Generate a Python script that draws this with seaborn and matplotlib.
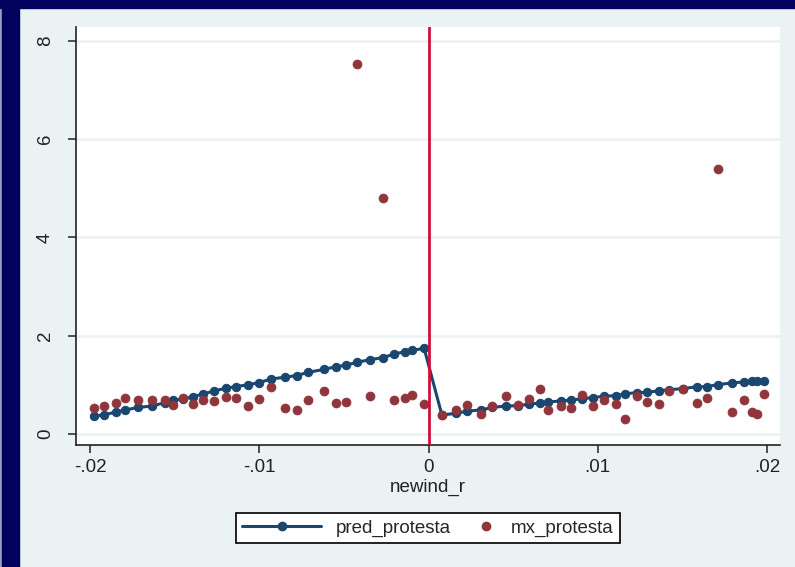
import numpy as np
import pandas as pd
import seaborn as sns
import matplotlib.pyplot as plt
from matplotlib.patches import Rectangle
from matplotlib.lines import Line2D
from matplotlib.legend_handler import HandlerLine2D

# 数据
bins_left = [-0.01975, -0.01915, -0.01846, -0.01793, -0.01716, -0.01635, -0.01556, -0.01507,
             -0.01450, -0.01394, -0.01330, -0.01266, -0.01197, -0.01140, -0.01069, -0.01002,
             -0.00930, -0.00850, -0.00779, -0.00712, -0.00618, -0.00547, -0.00489, -0.00422,
             -0.00343, -0.00268, -0.00201, -0.00139, -0.00097, -0.00026]
bins_right = [0.00079, 0.00160, 0.00229, 0.00308, 0.00378, 0.00456, 0.00531, 0.00596,
              0.00658, 0.00709, 0.00783, 0.00844, 0.00907, 0.00972, 0.01038, 0.01109,
              0.01161, 0.01231, 0.01294, 0.01363, 0.01422, 0.01503, 0.01584, 0.01643,
              0.01712, 0.01793, 0.01866, 0.01912, 0.01943, 0.01980]

pred_left = [0.367, 0.39, 0.45, 0.49, 0.54, 0.57, 0.64, 0.69, 0.71, 0.76, 0.815, 0.88,
             0.93, 0.965, 1.0, 1.045, 1.12, 1.155, 1.19, 1.255, 1.315, 1.37, 1.40, 1.46,
             1.515, 1.555, 1.63, 1.675, 1.70, 1.745]
pred_right = [0.387, 0.42, 0.465, 0.489, 0.54, 0.57, 0.575, 0.61, 0.63, 0.65, 0.675, 0.69,
              0.72, 0.74, 0.77, 0.78, 0.82, 0.84, 0.85, 0.88, 0.90, 0.925, 0.96, 0.965,
              1.005, 1.04, 1.06, 1.075, 1.08, 1.08]

mx_left = [0.53, 0.56, 0.63, 0.74, 0.69, 0.685, 0.685, 0.60, 0.725, 0.62, 0.69, 0.665,
           0.76, 0.725, 0.57, 0.72, 0.964, 0.525, 0.489, 0.692, 0.883, 0.625, 0.648, 7.53,
           0.765, 4.81, 0.692, 0.74, 0.79, 0.611]
mx_right = [0.387, 0.489, 0.60, 0.415, 0.56, 0.77, 0.60, 0.71, 0.91, 0.489, 0.56, 0.53,
            0.80, 0.57, 0.692, 0.611, 0.30, 0.774, 0.645, 0.615, 0.883, 0.923, 0.64, 0.726,
            5.40, 0.441, 0.685, 0.441, 0.407, 0.82]

xticks = [-0.02, -0.01, 0, 0.01, 0.02]
xtick_labels = ["-.02", "-.01", "0", ".01", ".02"]
yticks = [0, 2, 4, 6, 8]

df = pd.DataFrame({
    "newind_r": bins_left + bins_right,
    "pred_protesta": pred_left + pred_right,
    "mx_protesta": mx_left + mx_right,
})

navy = "#1A476F"
maroon = "#90353B"
bg = "#EAF2F3"
fs = 13.5

sns.set_style("white")
plt.rcParams["font.family"] = ["Liberation Sans", "DejaVu Sans"]

fig = plt.figure(figsize=(7.95, 5.67), dpi=100, facecolor=bg)
W, H = 795, 567

# 截图边框
fig.add_artist(Rectangle((0, 0), 2 / W, 1, transform=fig.transFigure, color="#9AA0B8", zorder=0))
fig.add_artist(Rectangle((2 / W, 0), 17 / W, 1, transform=fig.transFigure, color="#02025E", zorder=0))
fig.add_artist(Rectangle((0, 1 - 8 / H), 1, 8 / H, transform=fig.transFigure, color="#02025E", zorder=0))

ax = fig.add_axes([76 / W, 1 - 445 / H, 704 / W, 418 / H])
ax.set_facecolor("white")

for y in yticks:
    ax.axhline(y, color=bg, linewidth=1.8, zorder=0)

sns.lineplot(data=df, x="newind_r", y="pred_protesta", ax=ax, color=navy, linewidth=2.2,
             marker="o", markersize=6, markeredgecolor=navy, estimator=None, sort=False,
             zorder=3)
sns.scatterplot(data=df, x="newind_r", y="mx_protesta", ax=ax, color=maroon, s=42,
                edgecolor=maroon, linewidth=0.5, zorder=4)
ax.axvline(0, color="#D0103A", linewidth=2, zorder=5)

ax.set_xlim(-0.02083, 0.02077)
ax.set_ylim(-0.224, 8.285)
ax.set_xticks(xticks)
ax.set_xticklabels(xtick_labels)
ax.set_yticks(yticks)
ax.set_yticklabels([str(v) for v in yticks], rotation=90, va="center")
ax.tick_params(axis="both", which="major", direction="out", length=6, width=1.2,
               color="#333333", labelsize=fs, labelcolor="#222222",
               bottom=True, left=True)
ax.tick_params(axis="x", pad=4)
ax.tick_params(axis="y", pad=10)
for side in ["top", "right"]:
    ax.spines[side].set_visible(False)
for side in ["left", "bottom"]:
    ax.spines[side].set_color("#222222")
    ax.spines[side].set_linewidth(1.2)

ax.set_xlabel("newind_r", fontsize=fs, color="#222222", labelpad=2)
ax.set_ylabel("")

h_pred = Line2D([], [], color=navy, linewidth=2.2, marker="o", markersize=6)
h_mx = Line2D([], [], color=maroon, linestyle="none", marker="o", markersize=6)
leg = fig.legend([h_pred, h_mx], ["pred_protesta", "mx_protesta"],
                 loc="center", bbox_to_anchor=(428 / W, 1 - 528 / H), ncol=2,
                 frameon=True, fancybox=False, fontsize=fs, handlelength=4.2,
                 handletextpad=0.8, columnspacing=-1.8, borderpad=0.35,
                 handler_map={h_mx: HandlerLine2D(numpoints=1, xpad=3.1)})
leg.get_frame().set_edgecolor("#111111")
leg.get_frame().set_linewidth(1.3)
leg.get_frame().set_facecolor("white")
leg.get_frame().set_alpha(1)

plt.savefig("out.png", dpi=100, facecolor=fig.get_facecolor())
